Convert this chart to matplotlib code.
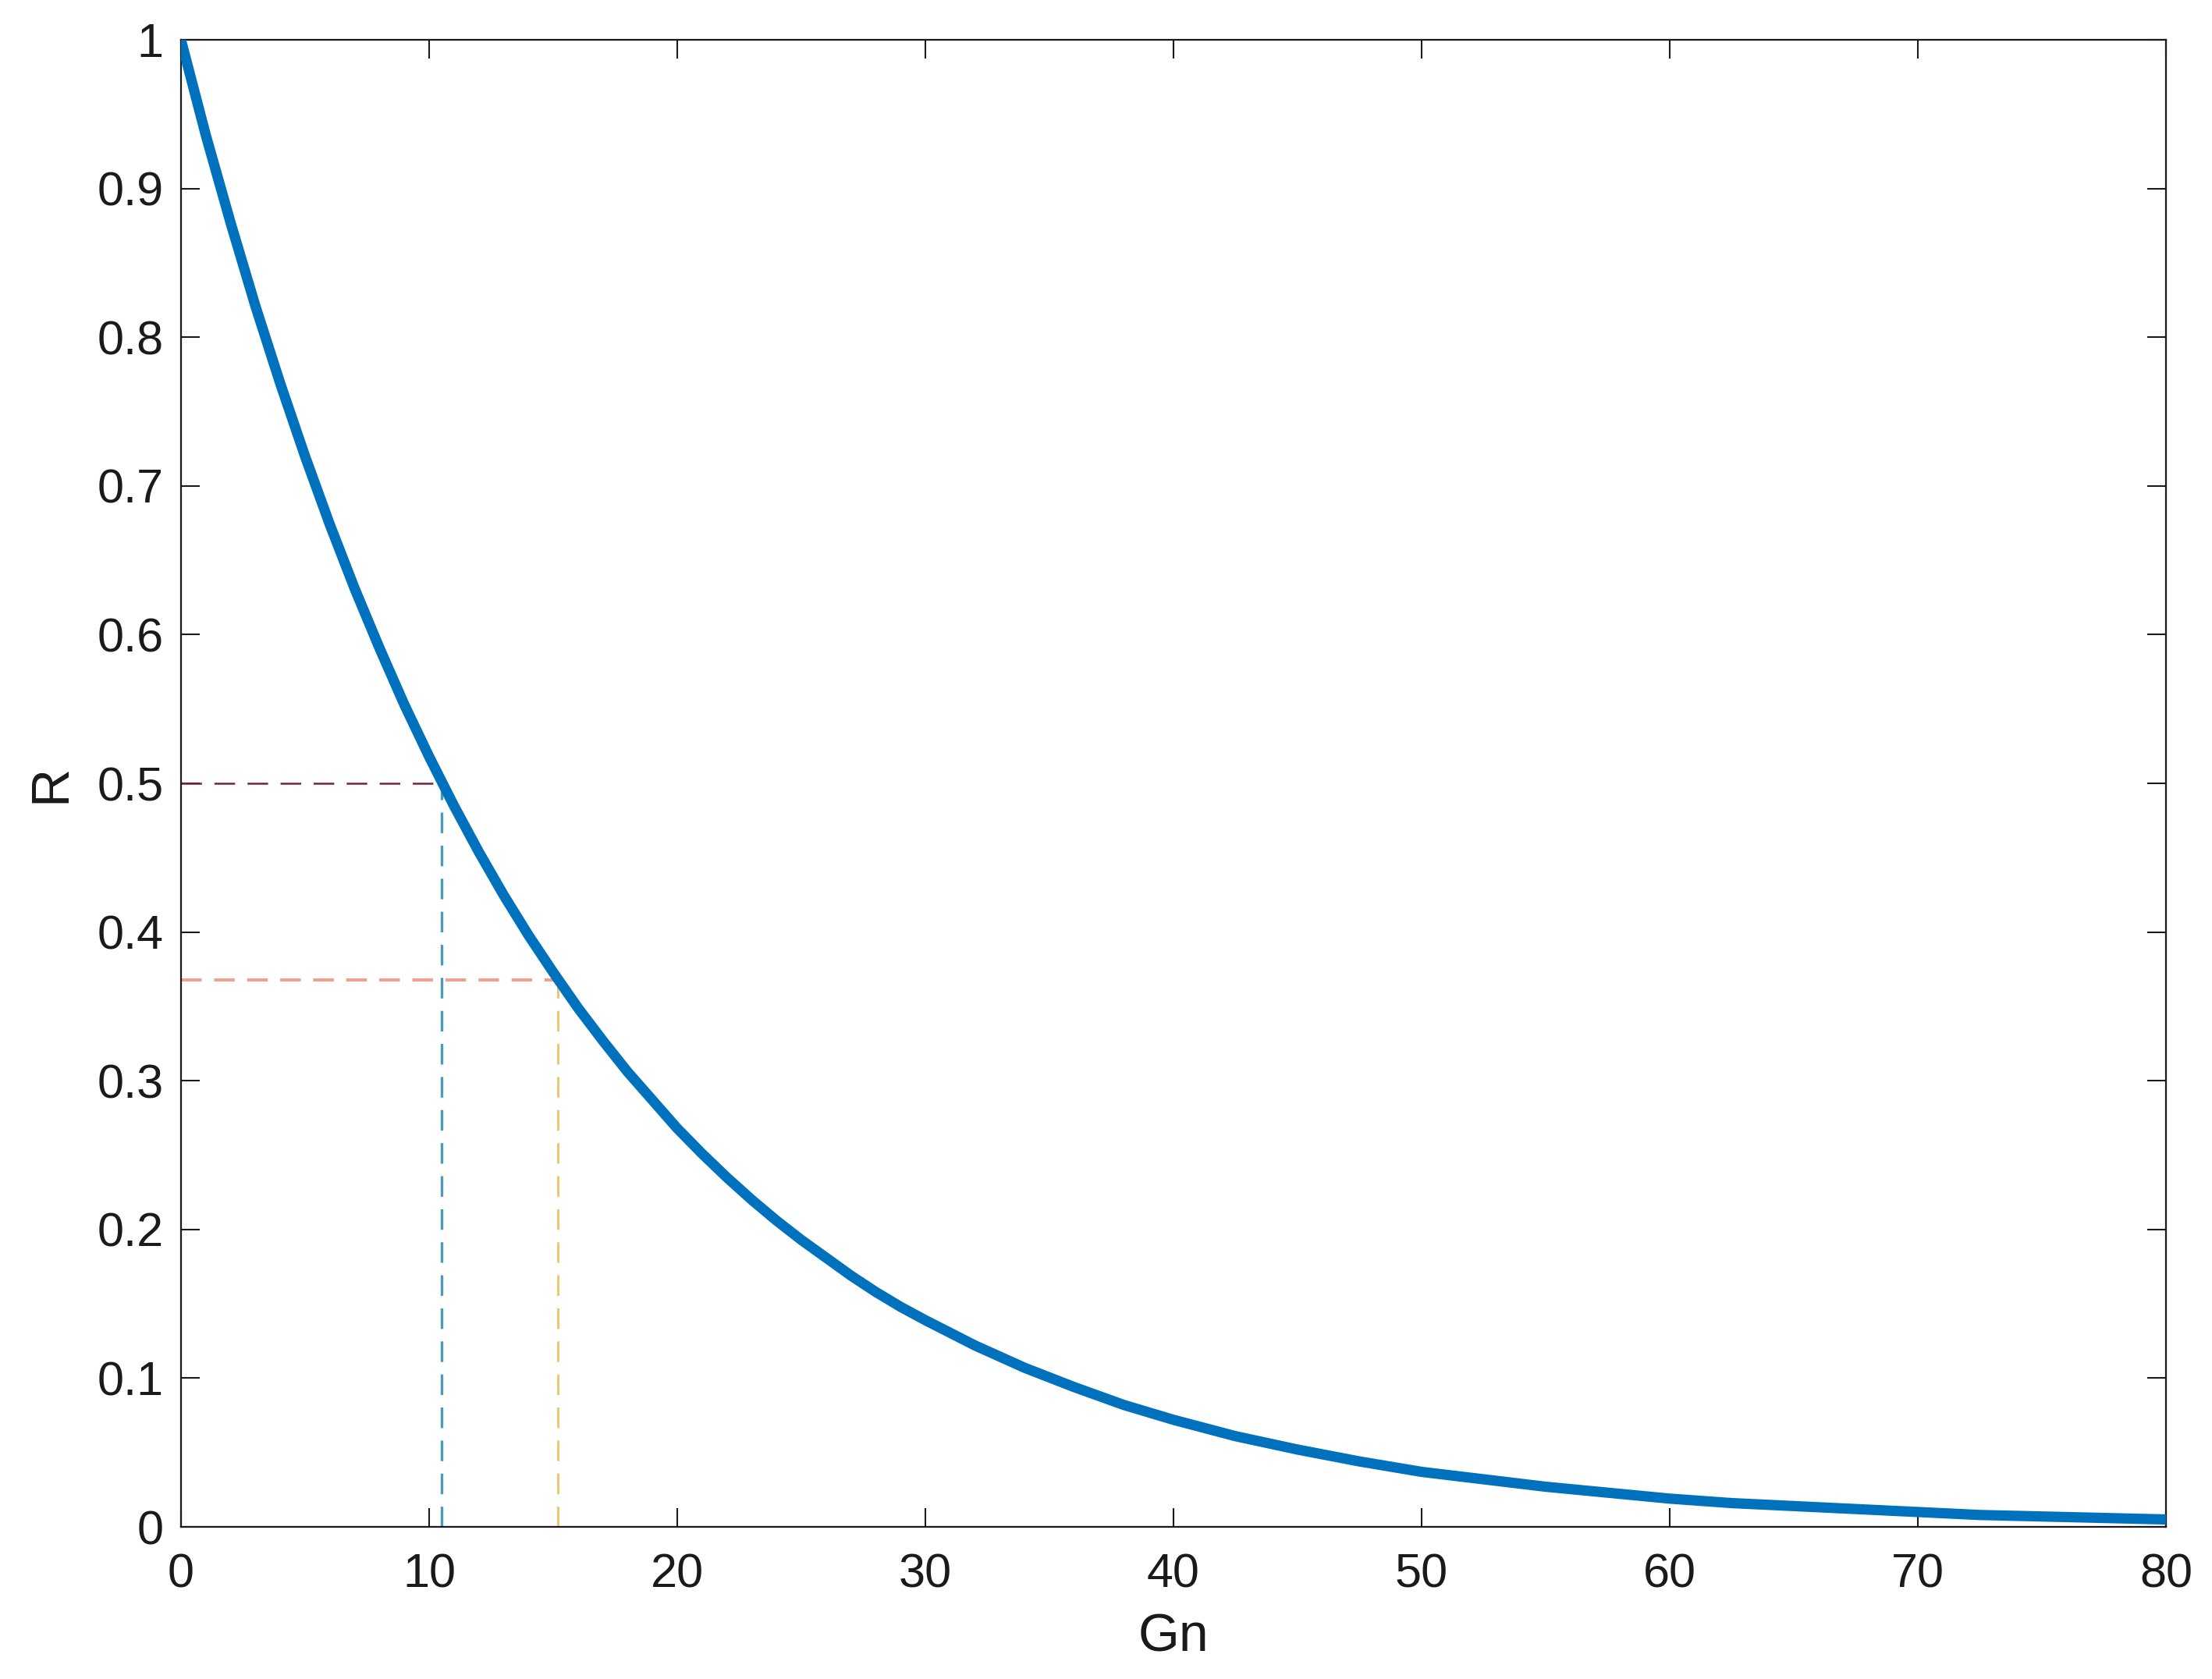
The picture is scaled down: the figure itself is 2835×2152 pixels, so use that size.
import matplotlib
matplotlib.use("Agg")
import matplotlib.pyplot as plt

plt.rcParams['font.family'] = ['Liberation Sans', 'DejaVu Sans']
plt.rcParams['lines.scale_dashes'] = False

# curve
gn = [0, 1, 2, 3, 4, 5, 6, 7, 8, 9, 10, 11, 12, 13, 14, 15, 16, 17, 18, 19,
      20, 21, 22, 23, 24, 25, 26, 27, 28, 29, 30, 32, 34, 36, 38, 40, 42.5,
      45, 47.5, 50, 52.5, 55, 57.5, 60, 62.5, 65, 67.5, 70, 72.5, 75, 77.5, 80]
r = [1.000, 0.936, 0.877, 0.821, 0.769, 0.720, 0.674, 0.631, 0.591, 0.553,
     0.518, 0.485, 0.454, 0.425, 0.398, 0.373, 0.349, 0.327, 0.306, 0.287,
     0.268, 0.251, 0.235, 0.220, 0.206, 0.193, 0.181, 0.169, 0.158, 0.148,
     0.139, 0.122, 0.107, 0.094, 0.082, 0.072, 0.061, 0.052, 0.044, 0.037,
     0.032, 0.027, 0.023, 0.019, 0.016, 0.014, 0.012, 0.010, 0.008, 0.007,
     0.006, 0.005]

# guide points
r_half = 0.5
gn_half = 10.5
r_e = 0.368
gn_e = 15.2

xticks = [0, 10, 20, 30, 40, 50, 60, 70, 80]
yticks = [0, 0.1, 0.2, 0.3, 0.4, 0.5, 0.6, 0.7, 0.8, 0.9, 1]
yticklabels = ['0', '0.1', '0.2', '0.3', '0.4', '0.5', '0.6', '0.7', '0.8', '0.9', '1']

fig = plt.figure(figsize=(28.35, 21.52), dpi=100)
ax = fig.add_axes([0.0818, 0.0906, 0.9792 - 0.0818, 0.9763 - 0.0906])

dash = (0, (19, 11.5))
ax.plot([0, gn_half], [r_half, r_half], color='#7A2040', lw=1.8, linestyle=dash)
ax.plot([0, gn_e], [r_e, r_e], color='#EBA394', lw=3, linestyle=dash)
ax.plot([gn_half, gn_half], [0, r_half], color='#4A9AB8', lw=2.4, linestyle=dash)
ax.plot([gn_e, gn_e], [0, r_e], color='#EDC465', lw=2, linestyle=dash)

ax.plot(gn, r, color='#0072BD', lw=9.5, solid_capstyle='butt',
        solid_joinstyle='round', zorder=5)

ax.set_xlim(0, 80)
ax.set_ylim(0, 1)
ax.set_xticks(xticks)
ax.set_yticks(yticks)
ax.set_yticklabels(yticklabels)

ax.tick_params(direction='in', length=17, width=1.5, top=True, right=True,
               labelsize=44, colors='#1a1a1a')
ax.tick_params(axis='x', pad=24)
ax.tick_params(axis='y', pad=16)
for s in ax.spines.values():
    s.set_linewidth(1.6)
    s.set_color('#1a1a1a')

ax.set_xlabel('Gn', fontsize=49, color='#1a1a1a')
ax.set_ylabel('R', fontsize=49, color='#1a1a1a')
ax.xaxis.set_label_coords(0.5, -0.074)
ax.xaxis.label.set_verticalalignment('center')
ax.yaxis.set_label_coords(-0.0656, 0.5)
ax.yaxis.label.set_verticalalignment('center')

fig.savefig('out.png', dpi=100)
